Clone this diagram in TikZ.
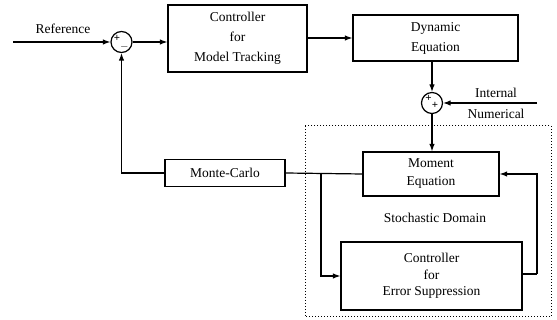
\documentclass[tikz,border=0pt]{standalone}
\usepackage{fontspec}
\setmainfont{Liberation Serif}
\usetikzlibrary{arrows.meta}
\begin{document}
\begin{tikzpicture}[x=1pt,y=-1pt,
  every node/.style={font=\fontsize{13.5}{18}\selectfont},
  blk/.style={draw,line width=1.2pt,rectangle,align=center,inner sep=0pt},
  sumc/.style={draw,line width=1.2pt,circle,minimum size=21pt,inner sep=0pt},
  sgn/.style={font=\fontsize{11}{11}\selectfont\bfseries,inner sep=0pt},
  wire/.style={line width=1.2pt},
  arr/.style={wire,-{Latex[length=7.5pt,width=5.5pt]}},
  lbl/.style={inner sep=0pt}]
\useasboundingbox (0,0) rectangle (557,320);
% dotted domain
\draw[dotted,line width=1pt] (305,126) rectangle (551,317);
% nodes
\node[sumc] (s1) at (121.5,42) {};
\node[sgn] (s1p) at (117,38.5) {+};
\node[sgn] (s1m) at (124.5,46.5) {$-$};
\node[blk,minimum width=139pt,minimum height=67pt,font=\fontsize{13.5}{20}\selectfont] (ctrl) at (237.5,38.5) {Controller\\for\\Model Tracking};
\node[blk,minimum width=165pt,minimum height=46pt,font=\fontsize{13.5}{20}\selectfont] (dyn) at (435.5,38) {Dynamic\\Equation};
\node[sumc] (s2) at (432,103) {};
\node[sgn] (s2a) at (428.5,98.5) {+};
\node[sgn] (s2b) at (435,105.5) {+};
\node[lbl] (int) at (496,93) {Internal};
\node[lbl] (num) at (496,113.5) {Numerical};
\coordinate (inn) at (537,103);
\node[blk,minimum width=136pt,minimum height=44pt] (mom) at (431,174) {Moment\\Equation};
\node[blk,minimum width=120pt,minimum height=27pt] (mc) at (225,173) {Monte-Carlo};
\node[lbl] (sd) at (435,218) {Stochastic Domain};
\node[blk,minimum width=181pt,minimum height=68pt,font=\fontsize{13.5}{16.5}\selectfont] (err) at (431.5,276) {Controller\\for\\Error Suppression};
\node[lbl] (ref) at (63,29) {Reference};
\coordinate (refin) at (13,42);
\coordinate (br) at (321,173);
\coordinate (fb) at (537,274);
% connectors
\draw[arr] (refin) -- (s1.west);
\draw[arr] (s1.east) -- (ctrl.west |- s1.east);
\draw[arr] (ctrl.east |- dyn.west) -- (dyn.west);
\draw[arr] (dyn.south -| s2.north) -- (s2.north);
\draw[arr] (inn) -- (s2.east);
\draw[arr] (s2.south) -- (mom.north -| s2.south);
\draw[wire] (mom.west) -- (mc.east);
\draw[arr] (mc.west) -| (s1.south);
\draw[arr] (br) |- (err.west);
\draw[wire] (err.east |- fb) -- (fb);
\draw[arr] (fb) |- (mom.east);
\end{tikzpicture}
\end{document}
